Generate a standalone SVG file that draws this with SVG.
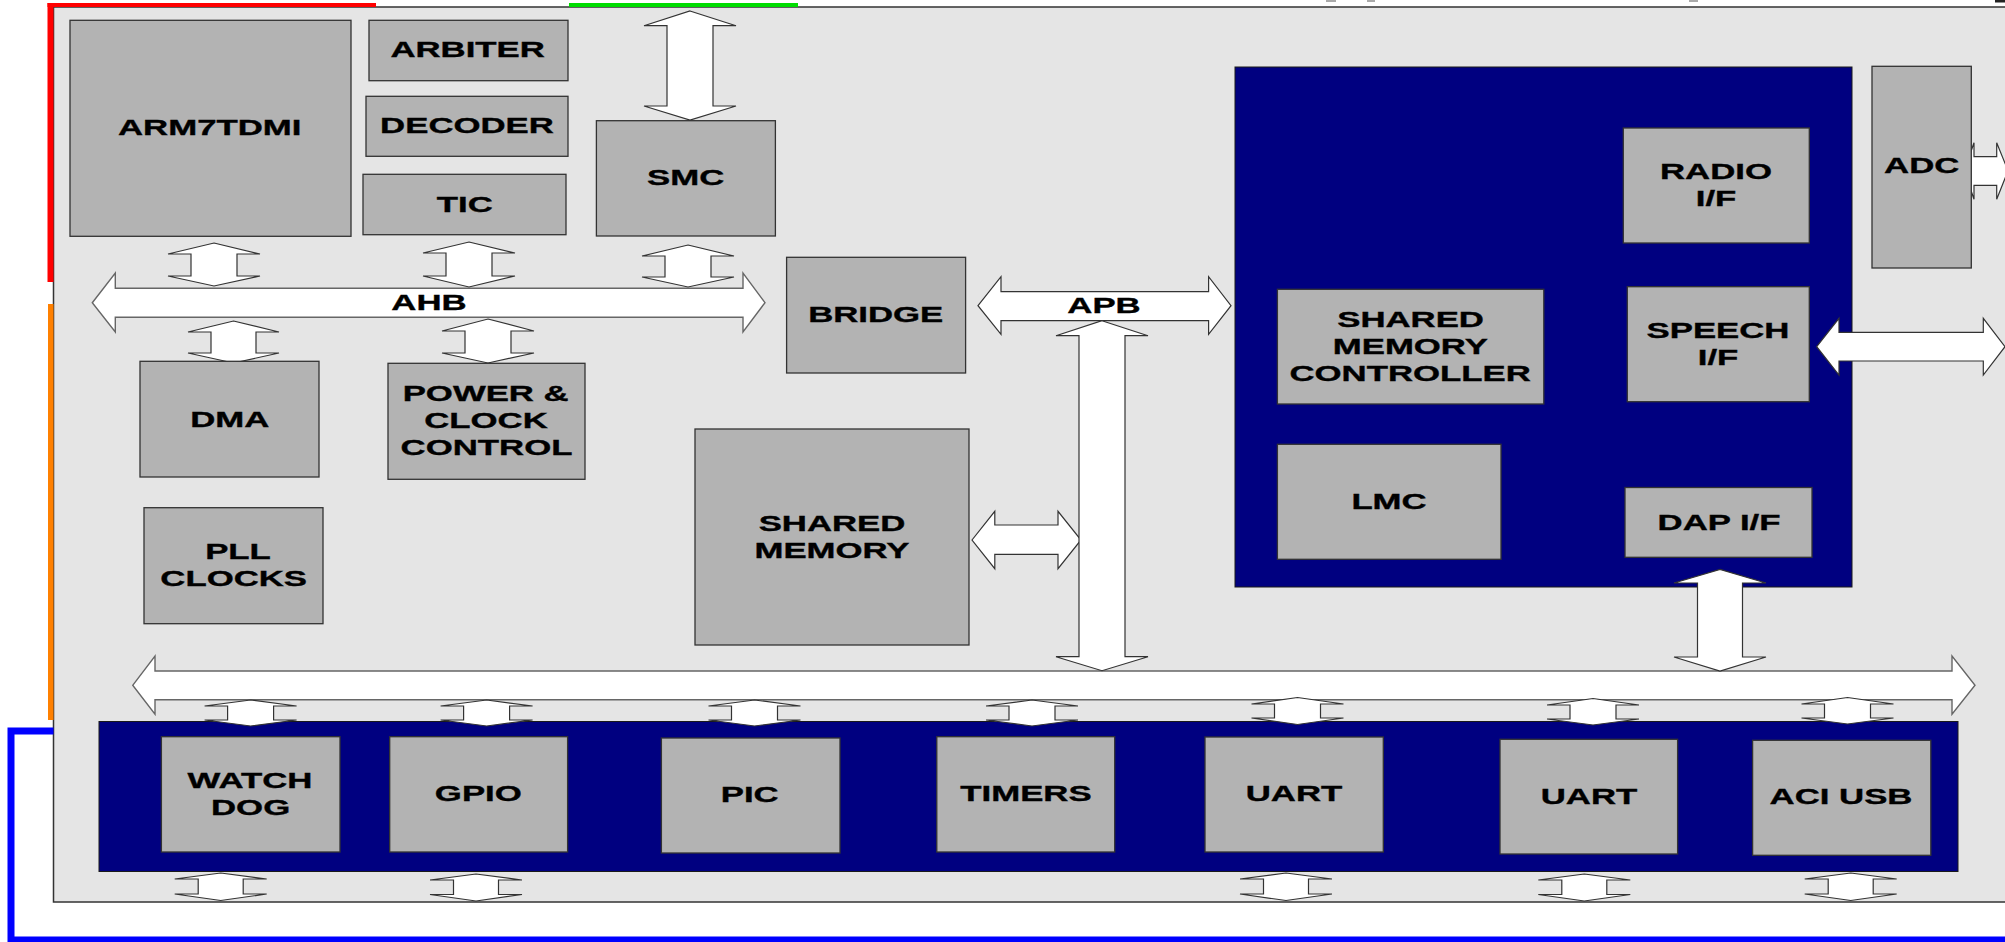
<svg xmlns="http://www.w3.org/2000/svg" width="2005" height="942" viewBox="0 0 2005 942">
  <style>
    .panel { fill: #e5e5e5; stroke: #333; stroke-width: 1.5; }
    .box { fill: #b3b3b3; stroke: #333; stroke-width: 1.3; }
    .blue { fill: #000080; stroke: #1a1a1a; stroke-width: 1; }
    .lbl { font-family: "Liberation Sans", Arial, sans-serif; font-weight: bold; font-size: 22px; fill: #000; stroke: #000; stroke-width: 0.35; text-anchor: middle; }
    .arr { fill: #fff; stroke: #333; stroke-width: 1.2; stroke-linejoin: miter; }
    .bus { fill: #fff; stroke: #666; stroke-width: 1.4; stroke-linejoin: miter; }
  </style>

  <rect width="2005" height="942" fill="#fff"/>

  <!-- chip outline -->
  <rect class="panel" x="53.5" y="7" width="1970" height="895"/>

  <!-- coloured edge markers -->
  <g id="edge-markers">
    <rect x="47.5" y="3" width="6" height="279" fill="#ff0000"/>
    <rect x="47.5" y="3" width="328.5" height="4" fill="#ff0000"/>
    <rect x="569" y="3" width="229" height="4" fill="#00dd00"/>
    <rect x="48" y="304" width="5.5" height="416" fill="#ff8000"/>
    <path d="M53.5,731 H11 V940 H2010" fill="none" stroke="#0000ff" stroke-width="7"/>
    <rect x="1326" y="0" width="10" height="2" fill="#aaa"/>
    <rect x="1367" y="0" width="8" height="2" fill="#aaa"/>
    <rect x="1689" y="0" width="9" height="2" fill="#aaa"/>
    <rect x="1995" y="0" width="10" height="2.5" fill="#222"/>
  </g>

  <!-- container blocks -->
  <g id="audio-subsystem">
    <rect class="blue" x="1235" y="67" width="617" height="520"/>
  </g>
  <g id="peripheral-bank">
    <rect class="blue" x="99" y="721.5" width="1859" height="150"/>
  </g>

  <!-- buses and links -->
  <g id="connectors">
    <path class="bus" d="M92.3,302.7 L115.3,273 L115.3,288.3 L743,288.3 L743,273 L765,302.7 L743,332 L743,317.3 L115.3,317.3 L115.3,332 Z"/>
    <path class="arr" d="M978,305.7 L1001,276.7 L1001,291.7 L1208.6,291.7 L1208.6,276.7 L1231,305.7 L1208.6,334.3 L1208.6,320.7 L1001,320.7 L1001,334.3 Z"/>
    <path class="bus" d="M132.7,685.3 L155,656 L155,671 L1952,671 L1952,656 L1975,685.3 L1952,714.3 L1952,699.8 L155,699.8 L155,714.3 Z"/>

    <path class="arr" d="M972,540 L994.8,511.3 L994.8,525 L1058,525 L1058,511.3 L1081,540 L1058,568.7 L1058,554.3 L994.8,554.3 L994.8,568.7 Z"/>
    <path class="arr" d="M1964.3,170.7 L1974,142.7 L1974,156.7 L1996.7,156.7 L1996.7,142.7 L2008,170.7 L1996.7,199.3 L1996.7,185.3 L1974,185.3 L1974,199.3 Z"/>
    <path class="arr" d="M1816.7,346.7 L1839,318.3 L1839,332.3 L1983.3,332.3 L1983.3,318.3 L2005,346.7 L1983.3,375 L1983.3,361 L1839,361 L1839,375 Z"/>

    <path class="arr" d="M214,243 L260,254 L237,254 L237,276 L260,276 L214,286 L168,276 L191,276 L191,254 L168,254 Z"/>
    <path class="arr" d="M469,242 L515,253 L492,253 L492,276 L515,276 L469,287 L423,276 L446,276 L446,253 L423,253 Z"/>
    <path class="arr" d="M688,245 L734,256 L711,256 L711,277 L734,277 L688,287 L642,277 L665,277 L665,256 L642,256 Z"/>
    <path class="arr" d="M233.5,321 L279,332 L256,332 L256,353 L279,353 L233.5,363 L188,353 L211,353 L211,332 L188,332 Z"/>
    <path class="arr" d="M488,319 L534,331 L511,331 L511,353 L534,353 L488,363 L442,353 L465,353 L465,331 L442,331 Z"/>
    <path class="arr" d="M690,11 L736,25.7 L713,25.7 L713,106 L736,106 L690,120 L644,106 L667,106 L667,25.7 L644,25.7 Z"/>
    <path class="arr" d="M1102,320.7 L1148,335.7 L1125,335.7 L1125,656.7 L1148,656.7 L1102,670.7 L1056,656.7 L1079,656.7 L1079,335.7 L1056,335.7 Z"/>
    <path class="arr" d="M1720,569.4 L1766,583 L1742.5,583 L1742.5,657 L1766,657 L1720,671 L1674,657 L1697.5,657 L1697.5,583 L1674,583 Z"/>

    <path class="arr" d="M250.6,700 L296.6,706 L273.6,706 L273.6,720 L296.6,720 L250.6,726 L204.6,720 L227.6,720 L227.6,706 L204.6,706 Z"/>
    <path class="arr" d="M486.6,700 L532.6,706 L509.6,706 L509.6,720 L532.6,720 L486.6,726 L440.6,720 L463.6,720 L463.6,706 L440.6,706 Z"/>
    <path class="arr" d="M754.5,700 L800.5,706 L777.5,706 L777.5,720 L800.5,720 L754.5,726 L708.5,720 L731.5,720 L731.5,706 L708.5,706 Z"/>
    <path class="arr" d="M1032,700 L1078,706 L1055,706 L1055,720 L1078,720 L1032,726 L986,720 L1009,720 L1009,706 L986,706 Z"/>
    <path class="arr" d="M1297.5,697.5 L1343.5,704 L1320.5,704 L1320.5,718 L1343.5,718 L1297.5,724.5 L1251.5,718 L1274.5,718 L1274.5,704 L1251.5,704 Z"/>
    <path class="arr" d="M1593,698.5 L1639,705 L1616,705 L1616,719 L1639,719 L1593,725 L1547,719 L1570,719 L1570,705 L1547,705 Z"/>
    <path class="arr" d="M1847.5,697.5 L1893.5,704 L1870.5,704 L1870.5,718 L1893.5,718 L1847.5,724 L1801.5,718 L1824.5,718 L1824.5,704 L1801.5,704 Z"/>

    <path class="arr" d="M220.7,873 L266.7,879 L243.2,879 L243.2,894 L266.7,894 L220.7,900.5 L174.7,894 L198.2,894 L198.2,879 L174.7,879 Z"/>
    <path class="arr" d="M476,874 L522,880 L498.5,880 L498.5,894.5 L522,894.5 L476,901 L430,894.5 L453.5,894.5 L453.5,880 L430,880 Z"/>
    <path class="arr" d="M1286,873 L1332,879 L1308.5,879 L1308.5,894 L1332,894 L1286,900.5 L1240,894 L1263.5,894 L1263.5,879 L1240,879 Z"/>
    <path class="arr" d="M1584.3,874 L1630.3,880 L1606.8,880 L1606.8,894.5 L1630.3,894.5 L1584.3,901 L1538.3,894.5 L1561.8,894.5 L1561.8,880 L1538.3,880 Z"/>
    <path class="arr" d="M1850.7,873 L1896.7,879 L1873.2,879 L1873.2,894 L1896.7,894 L1850.7,900.5 L1804.7,894 L1828.2,894 L1828.2,879 L1804.7,879 Z"/>

    <text class="lbl" transform="translate(429,309.7) scale(1.58,1)">AHB</text>
    <text class="lbl" transform="translate(1104,313.3) scale(1.58,1)">APB</text>
  </g>

  <!-- blocks -->
  <g id="arm7tdmi">
    <rect class="box" x="70" y="20.3" width="281" height="216"/>
    <text class="lbl" transform="translate(209.7,135) scale(1.58,1)">ARM7TDMI</text>
  </g>
  <g id="arbiter">
    <rect class="box" x="369" y="20.3" width="199" height="60.4"/>
    <text class="lbl" transform="translate(467.6,56.7) scale(1.58,1)">ARBITER</text>
  </g>
  <g id="decoder">
    <rect class="box" x="366" y="96.3" width="202" height="60"/>
    <text class="lbl" transform="translate(467,133.3) scale(1.58,1)">DECODER</text>
  </g>
  <g id="tic">
    <rect class="box" x="363" y="174.3" width="203" height="60.4"/>
    <text class="lbl" transform="translate(464.8,212) scale(1.58,1)">TIC</text>
  </g>
  <g id="smc">
    <rect class="box" x="596.4" y="120.7" width="179" height="115.3"/>
    <text class="lbl" transform="translate(685.7,185) scale(1.58,1)">SMC</text>
  </g>
  <g id="dma">
    <rect class="box" x="140" y="361.3" width="179" height="115.7"/>
    <text class="lbl" transform="translate(229.8,426.7) scale(1.58,1)">DMA</text>
  </g>
  <g id="power-clock-control">
    <rect class="box" x="388" y="363.3" width="197" height="116"/>
    <text class="lbl" transform="translate(485.7,401) scale(1.58,1)">POWER &amp;</text>
    <text class="lbl" transform="translate(486,428.3) scale(1.58,1)">CLOCK</text>
    <text class="lbl" transform="translate(486.5,455) scale(1.58,1)">CONTROL</text>
  </g>
  <g id="pll-clocks">
    <rect class="box" x="144" y="507.7" width="179" height="116"/>
    <text class="lbl" transform="translate(238,559.3) scale(1.58,1)">PLL</text>
    <text class="lbl" transform="translate(233.7,586) scale(1.58,1)">CLOCKS</text>
  </g>
  <g id="bridge">
    <rect class="box" x="786.6" y="257.3" width="179" height="115.7"/>
    <text class="lbl" transform="translate(875.7,321.7) scale(1.58,1)">BRIDGE</text>
  </g>
  <g id="shared-memory">
    <rect class="box" x="695" y="429" width="274" height="216"/>
    <text class="lbl" transform="translate(832,530.7) scale(1.58,1)">SHARED</text>
    <text class="lbl" transform="translate(832,557.7) scale(1.58,1)">MEMORY</text>
  </g>
  <g id="shared-memory-controller">
    <rect class="box" x="1277.4" y="289.3" width="266.4" height="114.7"/>
    <text class="lbl" transform="translate(1410.6,326.7) scale(1.58,1)">SHARED</text>
    <text class="lbl" transform="translate(1410.3,354) scale(1.58,1)">MEMORY</text>
    <text class="lbl" transform="translate(1410.1,381) scale(1.58,1)">CONTROLLER</text>
  </g>
  <g id="lmc">
    <rect class="box" x="1277.4" y="444.3" width="223.6" height="115"/>
    <text class="lbl" transform="translate(1389,509) scale(1.58,1)">LMC</text>
  </g>
  <g id="radio-if">
    <rect class="box" x="1623.3" y="128" width="186" height="115"/>
    <text class="lbl" transform="translate(1716,179) scale(1.58,1)">RADIO</text>
    <text class="lbl" transform="translate(1716,205.7) scale(1.58,1)">I/F</text>
  </g>
  <g id="speech-if">
    <rect class="box" x="1627.3" y="286.7" width="182" height="115"/>
    <text class="lbl" transform="translate(1718,337.7) scale(1.58,1)">SPEECH</text>
    <text class="lbl" transform="translate(1718,365) scale(1.58,1)">I/F</text>
  </g>
  <g id="dap-if">
    <rect class="box" x="1625" y="487.5" width="187" height="69.8"/>
    <text class="lbl" transform="translate(1719,529.6) scale(1.58,1)">DAP I/F</text>
  </g>
  <g id="adc">
    <rect class="box" x="1872" y="66.3" width="99.3" height="201.7"/>
    <text class="lbl" transform="translate(1921.7,173.3) scale(1.58,1)">ADC</text>
  </g>
  <g id="watchdog">
    <rect class="box" x="161.4" y="736.7" width="178.6" height="115.3"/>
    <text class="lbl" transform="translate(250,788.3) scale(1.58,1)">WATCH</text>
    <text class="lbl" transform="translate(250.6,814.7) scale(1.58,1)">DOG</text>
  </g>
  <g id="gpio">
    <rect class="box" x="389.7" y="736.7" width="177.9" height="115.3"/>
    <text class="lbl" transform="translate(478.3,801) scale(1.58,1)">GPIO</text>
  </g>
  <g id="pic">
    <rect class="box" x="661.4" y="738" width="178.6" height="115"/>
    <text class="lbl" transform="translate(749.7,802) scale(1.58,1)">PIC</text>
  </g>
  <g id="timers">
    <rect class="box" x="936.8" y="736.7" width="177.9" height="115.3"/>
    <text class="lbl" transform="translate(1026,801) scale(1.58,1)">TIMERS</text>
  </g>
  <g id="uart-1">
    <rect class="box" x="1205" y="737" width="178.3" height="115"/>
    <text class="lbl" transform="translate(1294,801) scale(1.58,1)">UART</text>
  </g>
  <g id="uart-2">
    <rect class="box" x="1500" y="739.3" width="177.6" height="114.7"/>
    <text class="lbl" transform="translate(1589,804.3) scale(1.58,1)">UART</text>
  </g>
  <g id="aci-usb">
    <rect class="box" x="1752.6" y="740.3" width="178.2" height="115"/>
    <text class="lbl" transform="translate(1841,804.3) scale(1.58,1)">ACI USB</text>
  </g>
</svg>
